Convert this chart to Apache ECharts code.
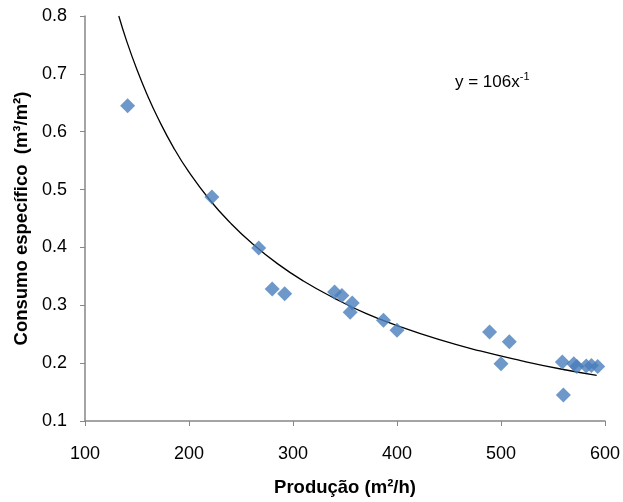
<!DOCTYPE html>
<html><head><meta charset="utf-8">
<script src="https://cdn.jsdelivr.net/npm/echarts@6/dist/echarts.min.js"></script>
<style>html,body{margin:0;padding:0;background:#fff}#c{width:623px;height:502px}</style>
</head><body><div id="c"></div>
<script>
var producao = [141, 222, 267, 280, 292, 340, 347, 357, 355, 387, 400, 489, 508, 500, 559, 560, 570, 573, 582, 587, 593];
var consumo  = [0.645, 0.487, 0.399, 0.328, 0.320, 0.323, 0.317, 0.304, 0.288, 0.274, 0.257, 0.254, 0.237, 0.199, 0.202, 0.145, 0.199, 0.194, 0.195, 0.196, 0.194];
var trendX = [132.5, 140, 150, 160, 170, 185, 200, 220, 240, 260, 285, 310, 340, 370, 400, 440, 480, 520, 560, 592];
var trendY = [0.800, 0.757, 0.707, 0.663, 0.624, 0.573, 0.530, 0.482, 0.442, 0.408, 0.372, 0.342, 0.312, 0.286, 0.265, 0.241, 0.221, 0.204, 0.189, 0.179];
var xTicks = [100, 200, 300, 400, 500, 600];
var yTicks = [0.1, 0.2, 0.3, 0.4, 0.5, 0.6, 0.7, 0.8];

var chart = echarts.init(document.getElementById('c'));
var font = 'Liberation Sans, Arial, sans-serif';
var axisCol = '#868686';
chart.setOption({
  animation: false,
  grid: {left: 85, right: 16, top: 16, bottom: 79},
  xAxis: {
    type: 'value', min: xTicks[0], max: xTicks[xTicks.length-1], interval: 100,
    name: 'Produção (m²/h)', nameLocation: 'middle', nameGap: 57,
    nameTextStyle: {fontFamily: font, fontSize: 18.5, fontWeight: 'bold', color: '#000'},
    axisLine: {show: true, lineStyle: {color: axisCol, width: 1.5}},
    axisTick: {show: true, length: 5, lineStyle: {color: axisCol}},
    axisLabel: {fontFamily: font, fontSize: 18, color: '#000', margin: 24},
    splitLine: {show: false}
  },
  yAxis: {
    type: 'value', min: yTicks[0], max: yTicks[yTicks.length-1], interval: 0.1,
    name: 'Consumo específico  (m³/m²)', nameLocation: 'middle', nameGap: 54,
    nameTextStyle: {fontFamily: font, fontSize: 18.5, fontWeight: 'bold', color: '#000'},
    axisLine: {show: true, lineStyle: {color: axisCol, width: 1.5}},
    axisTick: {show: true, length: 5, lineStyle: {color: axisCol}},
    axisLabel: {fontFamily: font, fontSize: 18, color: '#000', margin: 18,
      formatter: function(v){ return v.toFixed(1); }},
    splitLine: {show: false}
  },
  graphic: [{
    type: 'text', left: 455, top: 71,
    style: {
      text: '{a|y = 106x}{s|-1}',
      rich: {
        a: {fontFamily: font, fontSize: 17, fill: '#000', verticalAlign: 'bottom', lineHeight: 20},
        s: {fontFamily: font, fontSize: 11, fill: '#000', verticalAlign: 'top', lineHeight: 20, padding:[0,0,9,0]}
      }
    }
  }],
  series: [{
    type: 'line', data: trendX.map(function(x,i){return [x, trendY[i]];}),
    smooth: true, symbol: 'none', lineStyle: {color: '#000', width: 1.3}, z: 2
  }, {
    type: 'scatter', data: producao.map(function(x,i){return [x, consumo[i]];}),
    symbol: 'diamond', symbolSize: 15,
    itemStyle: {color: '#4A7EBB'}, z: 3
  }]
});
</script></body></html>
